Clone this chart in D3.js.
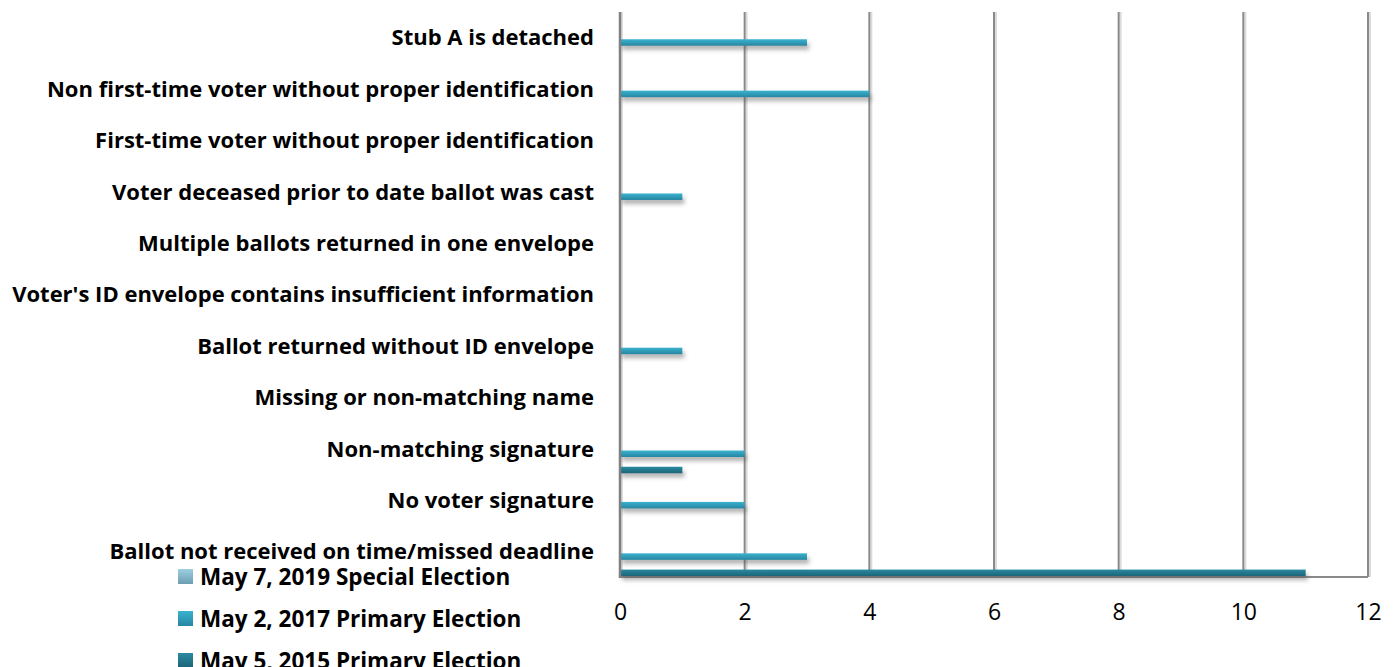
<!DOCTYPE html>
<html><head><meta charset="utf-8">
<script src="https://cdn.jsdelivr.net/npm/d3@7"></script>
<style>body{margin:0;background:#fff}svg{display:block}</style>
</head><body>
<svg id="c" width="1397" height="667"></svg>
<script>
const categories = [
  "Stub A is detached",
  "Non first-time voter without proper identification",
  "First-time voter without proper identification",
  "Voter deceased prior to date ballot was cast",
  "Multiple ballots returned in one envelope",
  "Voter's ID envelope contains insufficient information",
  "Ballot returned without ID envelope",
  "Missing or non-matching name",
  "Non-matching signature",
  "No voter signature",
  "Ballot not received on time/missed deadline"
];
const seriesNames = ["May 7, 2019 Special Election","May 2, 2017 Primary Election","May 5, 2015 Primary Election"];
const values2019 = [0,0,0,0,0,0,0,0,0,0,0];
const values2017 = [3,4,0,1,0,0,1,0,2,2,3];
const values2015 = [0,0,0,0,0,0,0,0,1,0,11];
const tickValues = [0,2,4,6,8,10,12];

const seriesValues = [values2019, values2017, values2015];
const colorsTop = ["#9ccfe0","#3ab2cf","#2a8aa0"];
const colorsBot = ["#6d9db2","#2786a2","#1c6478"];
const FONT = "'Open Sans', sans-serif";

const svg = d3.select("#c");
const defs = svg.append("defs");
seriesNames.forEach((s,i)=>{
  const g = defs.append("linearGradient").attr("id","g"+i).attr("x1",0).attr("y1",0).attr("x2",0).attr("y2",1);
  g.append("stop").attr("offset","0%").attr("stop-color",colorsTop[i]);
  g.append("stop").attr("offset","100%").attr("stop-color",colorsBot[i]);
});
const f = defs.append("filter").attr("id","sh").attr("x","-5%").attr("y","-50%").attr("width","120%").attr("height","300%");
f.append("feDropShadow").attr("dx",2).attr("dy",4).attr("stdDeviation",2).attr("flood-color","#555").attr("flood-opacity",0.45);

const x = d3.scaleLinear().domain([0,12]).range([620,1368]);
const y = d3.scaleBand().domain(categories).range([12,577.5]).padding(0);
const inner = d3.scalePoint().domain(seriesNames).range([11,43.5]);
const barH = 6.5;

// gridlines (with soft shadow line)
const gg = svg.append("g");
gg.selectAll("line.s").data(tickValues).join("line").attr("class","s")
  .attr("x1",d=>x(d)+2).attr("x2",d=>x(d)+2).attr("y1",12).attr("y2",577)
  .attr("stroke","#dcdcdc").attr("stroke-width",2);
gg.selectAll("line.m").data(tickValues).join("line").attr("class","m")
  .attr("x1",d=>x(d)).attr("x2",d=>x(d)).attr("y1",12).attr("y2",577)
  .attr("stroke","#8a8a8a").attr("stroke-width",2);
// bottom floor line
svg.append("line").attr("x1",x(0)).attr("x2",x(12)).attr("y1",577).attr("y2",577)
  .attr("stroke","#8a8a8a").attr("stroke-width",2);

// bars
seriesNames.forEach((s,i)=>{
  svg.append("g").selectAll("rect").data(categories.map((c,j)=>({c,v:seriesValues[i][j]})).filter(d=>d.v>0))
    .join("rect")
    .attr("x",x(0)).attr("y",d=>y(d.c)+inner(s))
    .attr("width",d=>x(d.v)-x(0)).attr("height",barH)
    .attr("fill","url(#g"+i+")").attr("filter","url(#sh)");
});

// left axis line over bars
svg.append("line").attr("x1",620).attr("x2",620).attr("y1",12).attr("y2",578)
  .attr("stroke","#808080").attr("stroke-width",2.5);

// category labels
svg.append("g").selectAll("text").data(categories).join("text")
  .attr("x",594).attr("y",d=>y(d)+y.bandwidth()/2).attr("dy","0.35em")
  .attr("text-anchor","end").attr("font-family",FONT).attr("font-weight","bold")
  .attr("font-size",22).attr("fill","#000").text(d=>d);

// x tick labels
const xAxis = d3.axisBottom(x).tickValues(tickValues).tickSize(0).tickPadding(0);
const ga = svg.append("g").attr("transform","translate(0,612)").call(xAxis);
ga.select(".domain").remove();
ga.selectAll("text").attr("font-family",FONT).attr("font-size",23).attr("fill","#000").attr("dy","0.35em");

// legend
const lg = svg.append("g");
seriesNames.forEach((s,i)=>{
  const yy = 577 + i*42;
  lg.append("rect").attr("x",178).attr("y",yy-8).attr("width",15).attr("height",15).attr("fill","url(#g"+i+")");
  lg.append("text").attr("x",200).attr("y",yy).attr("dy","0.35em").attr("font-family",FONT)
    .attr("font-weight","bold").attr("font-size",22.5).attr("fill","#000").text(s);
});
</script>
</body></html>
